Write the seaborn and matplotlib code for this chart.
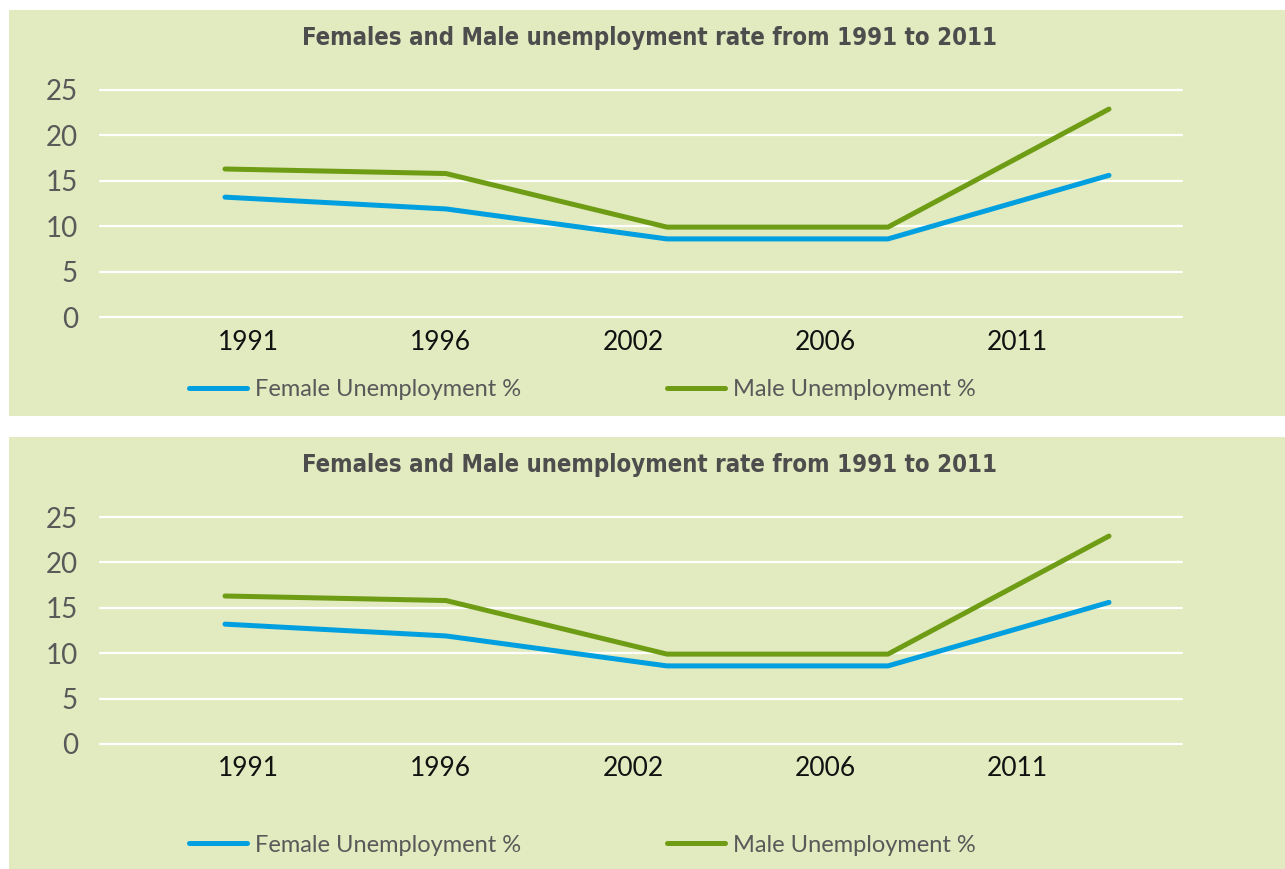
import matplotlib
matplotlib.use('Agg')
import matplotlib.pyplot as plt
import seaborn as sns
import pandas as pd
from matplotlib.patches import Rectangle

# ---- data ----
years = ['1991', '1996', '2002', '2006', '2011']
female = [13.2, 11.9, 8.6, 8.6, 15.6]
male = [16.3, 15.8, 9.9, 9.9, 22.9]
series_names = ['Female Unemployment %', 'Male Unemployment %']
title = 'Females and Male unemployment rate from 1991 to 2011'
yticks = [0, 5, 10, 15, 20, 25]

BG = '#E2EABF'
BLUE = '#009FE0'
GREEN = '#6E9C14'
GRAY = '#595959'

sns.set_theme(style='white')
plt.rcParams['font.family'] = ['Lato', 'DejaVu Sans']

W, H = 1285, 869
fig = plt.figure(figsize=(W / 100, H / 100), dpi=100)
fig.patch.set_facecolor('white')

df = pd.DataFrame({
    'pos': list(range(len(years))) * 2,
    'value': female + male,
    'series': [series_names[0]] * len(years) + [series_names[1]] * len(years),
})

# layout constants (pixels)
AX_L, AX_R = 100, 1182
PT0, PTSTEP = 225, 221      # where category points sit
LB0, LBSTEP = 248.5, 192.2  # where category labels sit

panels = [
    dict(bg=(9, 10, 1285, 416), ax_top=90, ax_bot=317, title_y=38, leg_y=390),
    dict(bg=(9, 437, 1285, 869), ax_top=517, ax_bot=744, title_y=465, leg_y=845),
]

for p in panels:
    x0, y0, x1, y1 = p['bg']
    fig.patches.append(Rectangle((x0 / W, 1 - y1 / H), (x1 - x0) / W, (y1 - y0) / H,
                                 transform=fig.transFigure, facecolor=BG,
                                 edgecolor='none', zorder=-10))
    ax = fig.add_axes([AX_L / W, 1 - p['ax_bot'] / H, (AX_R - AX_L) / W,
                       (p['ax_bot'] - p['ax_top']) / H])
    ax.set_zorder(5)
    ax.set_facecolor('none')
    sns.lineplot(data=df, x='pos', y='value', hue='series', hue_order=series_names,
                 palette=[BLUE, GREEN], linewidth=3.6, ax=ax, legend=True)
    ax.set_xlim((AX_L - PT0) / PTSTEP, (AX_R - PT0) / PTSTEP)
    ax.set_ylim(0, 25)
    ax.set_yticks(yticks)
    ax.set_yticklabels([str(t) for t in yticks], color=GRAY, fontsize=20, fontweight='normal')
    ax.set_xticks([(LB0 + LBSTEP * i - PT0) / PTSTEP for i in range(len(years))])
    ax.set_xticklabels(years, color='#111111', fontsize=19, fontweight='normal')
    ax.tick_params(axis='y', length=0, pad=16)
    ax.tick_params(axis='x', length=0, pad=9)
    ax.grid(axis='y', color='white', linewidth=1.6)
    for gl in ax.get_ygridlines():
        gl.set_clip_on(False)
    ax.set_axisbelow(True)
    for s in ax.spines.values():
        s.set_visible(False)
    ax.set_xlabel('')
    ax.set_ylabel('')
    handles, labels = ax.get_legend_handles_labels()
    ax.legend(handles, labels, ncol=2, loc='center left',
              bbox_to_anchor=(189 / W, 1 - p['leg_y'] / H), bbox_transform=fig.transFigure,
              frameon=False, fontsize=17, handlelength=2.45, handletextpad=0.34,
              columnspacing=6.2, borderpad=0, borderaxespad=0, labelcolor=GRAY)
    fig.text(650 / W, 1 - p['title_y'] / H, title, ha='center', va='center',
             fontsize=17.2, fontweight='bold', color='#4D4D4D', fontstretch='condensed',
             family=['Liberation Sans Narrow', 'DejaVu Sans'])

fig.savefig('out.png', dpi=100, facecolor='white')
